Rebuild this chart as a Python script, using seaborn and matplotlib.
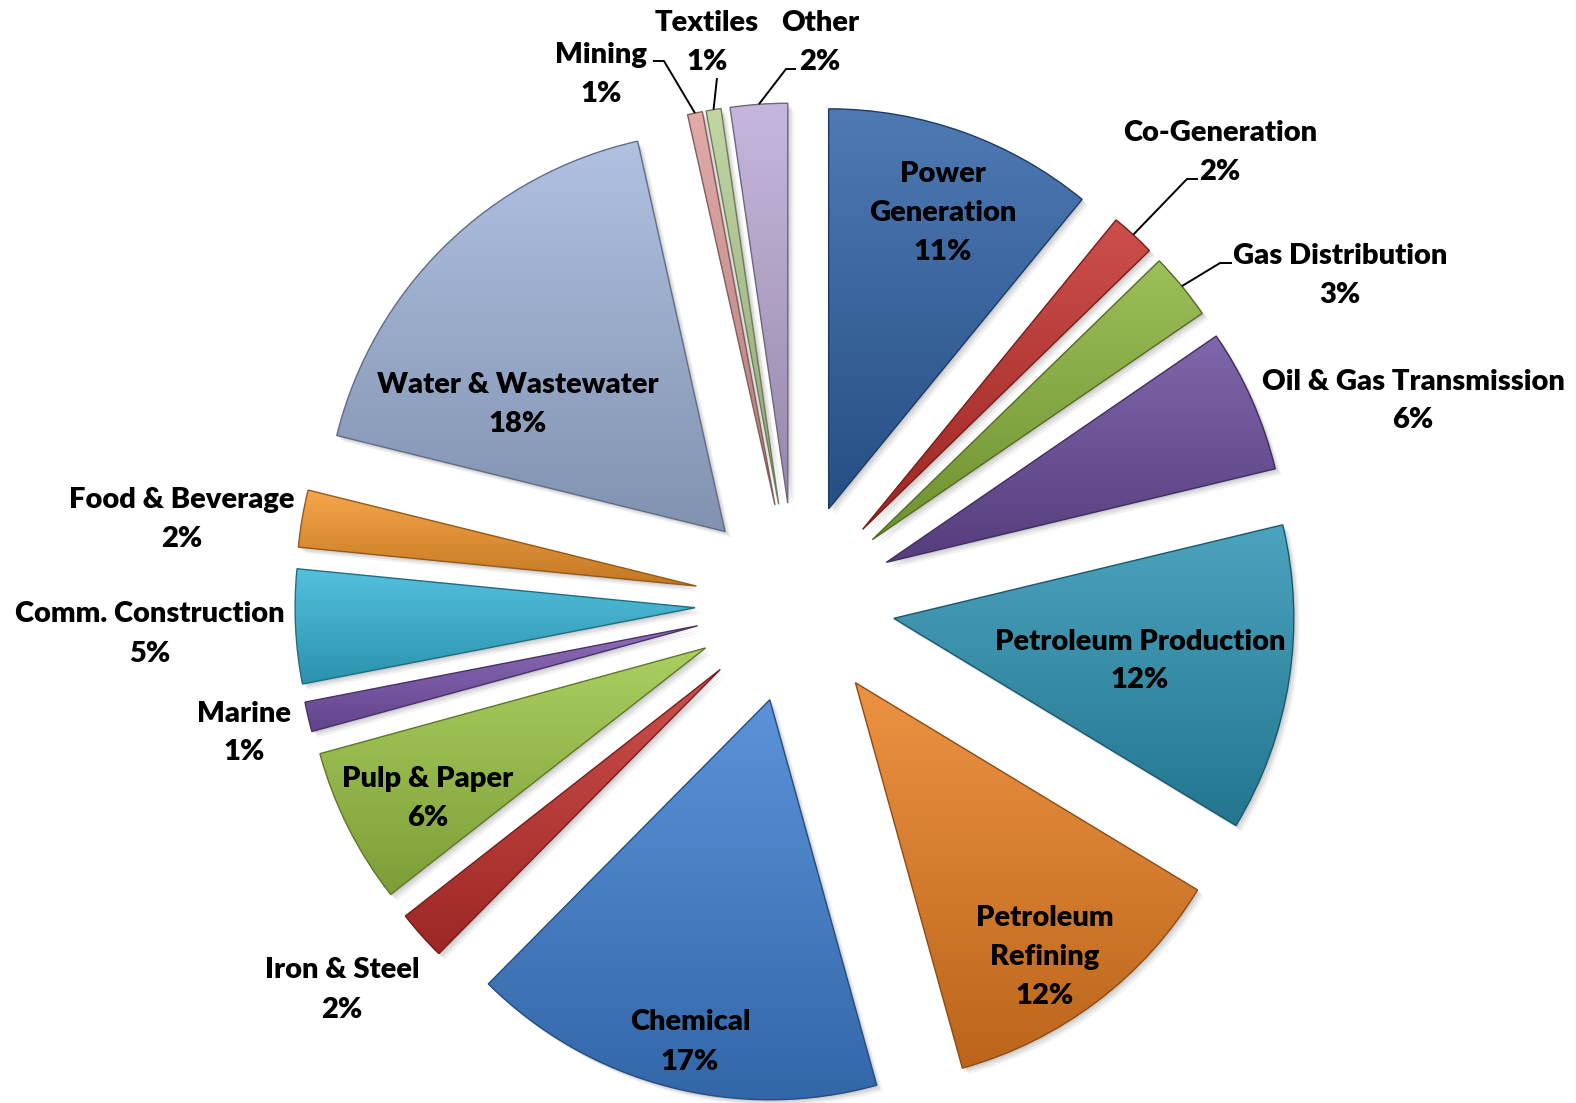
import numpy as np
import matplotlib
matplotlib.use("Agg")
import matplotlib.pyplot as plt
import matplotlib.colors as mcolors
import matplotlib.patches as mpatches
import seaborn as sns

# share of installed base by industry (%), clockwise from 12 o'clock
sectors = ["Power Generation", "Co-Generation", "Gas Distribution",
           "Oil & Gas Transmission", "Petroleum Production", "Petroleum Refining",
           "Chemical", "Iron & Steel", "Pulp & Paper", "Marine",
           "Comm. Construction", "Food & Beverage", "Water & Wastewater",
           "Mining", "Textiles", "Other"]
shares = [10.9, 1.8, 2.7, 5.8, 12.4, 12.0, 16.7, 2.0, 6.3, 1.2,
          4.6, 2.3, 17.6, 0.6, 0.6, 2.3]
colors = ["#2f62a6", "#c4302c", "#8bb43c", "#6a4c9c", "#2c93b2", "#e97f22",
          "#3f80d2", "#c4312e", "#9cc645", "#7a54ae", "#36b6d8", "#f5962a",
          "#a2b6dc", "#dc9c9a", "#b6cf94", "#bcaad6"]

# ---- layout (figure pixels) ----
W, H = 1576, 1103
CX, CY, R = 795, 603, 400          # pie centre / radius
EXPLODE = 0.25

label_pos = {
    "Power Generation": (943, 211),
    "Co-Generation": (1220, 150),
    "Gas Distribution": (1340, 273),
    "Oil & Gas Transmission": (1413, 399),
    "Petroleum Production": (1140, 659),
    "Petroleum Refining": (1045, 955),
    "Chemical": (690, 1040),
    "Iron & Steel": (342, 988),
    "Pulp & Paper": (428, 797),
    "Marine": (244, 731),
    "Comm. Construction": (150, 632),
    "Food & Beverage": (182, 517),
    "Water & Wastewater": (518, 402),
    "Mining": (601, 72),
    "Textiles": (707, 40),
    "Other": (820, 40),
}
wrap = {"Power Generation": ["Power", "Generation"],
        "Petroleum Refining": ["Petroleum", "Refining"]}
leaders = {
    "Co-Generation": [(1198, 179), (1187, 179)],
    "Gas Distribution": [(1232, 263), (1220, 263)],
    "Mining": [(653, 61), (664, 61)],
    "Textiles": [(717, 78)],
    "Other": [(796, 69), (786, 69)],
}
LINE_PITCH = 39
CAP_HALF = 10


def to_data(x, y):
    return (x - CX) / R, (CY - y) / R


sns.set_theme(style="white")
plt.rcParams['font.family'] = ['Lato', 'DejaVu Sans']

fig = plt.figure(figsize=(W / 100, H / 100), dpi=100)
ax = fig.add_axes([0, 0, 1, 1])

wedges, _ = ax.pie(shares, colors=colors, startangle=90, counterclock=False,
                   explode=[EXPLODE] * len(shares), radius=1,
                   wedgeprops=dict(linewidth=0))

t = np.linspace(0, 1, 256)[:, None]
for w, base in zip(wedges, colors):
    rgb = np.array(mcolors.to_rgb(base))
    top = rgb + (1 - rgb) * 0.15
    bot = rgb * 0.80
    grad = (top * (1 - t) + bot * t)[:, None, :]
    ext = w.get_path().get_extents()
    im = ax.imshow(grad, extent=[ext.x0, ext.x1, ext.y0, ext.y1], origin='upper',
                   aspect='auto', interpolation='bilinear', zorder=2)
    im.set_clip_path(w)
    w.set_facecolor('none')
    w.set_edgecolor(tuple(rgb * 0.6))
    w.set_linewidth(1.0)
    w.set_zorder(3)

    # soft drop shadow
    for k, a in [(2, 0.08), (4, 0.07), (6, 0.05)]:
        sh = mpatches.Wedge((w.center[0] + k / R, w.center[1] - k / R), w.r,
                            w.theta1, w.theta2, facecolor='black', alpha=a,
                            linewidth=0, zorder=1)
        ax.add_patch(sh)

# labels
for name, val, w in zip(sectors, shares, wedges):
    lines = wrap.get(name, [name]) + [f"{round(val):.0f}%"]
    xc, yc = label_pos[name]
    n = len(lines)
    for i, s in enumerate(lines):
        yb = yc + (i - (n - 1) / 2) * LINE_PITCH + CAP_HALF
        x, y = to_data(xc, yb)
        ax.text(x, y, s, ha='center', va='baseline', fontsize=21,
                fontweight='heavy', color='black', zorder=5)

    if name in leaders:
        pts = [to_data(*p) for p in leaders[name]]
        mid = np.deg2rad((w.theta1 + w.theta2) / 2)
        pts.append((w.center[0] + w.r * np.cos(mid), w.center[1] + w.r * np.sin(mid)))
        xs, ys = zip(*pts)
        ax.plot(xs, ys, color='black', lw=1.4, zorder=4, solid_capstyle='butt')

ax.set_xlim(-CX / R, (W - CX) / R)
ax.set_ylim(-(H - CY) / R, CY / R)
ax.set_aspect('auto')
ax.axis('off')

fig.savefig("out.png", dpi=100, facecolor='white')
